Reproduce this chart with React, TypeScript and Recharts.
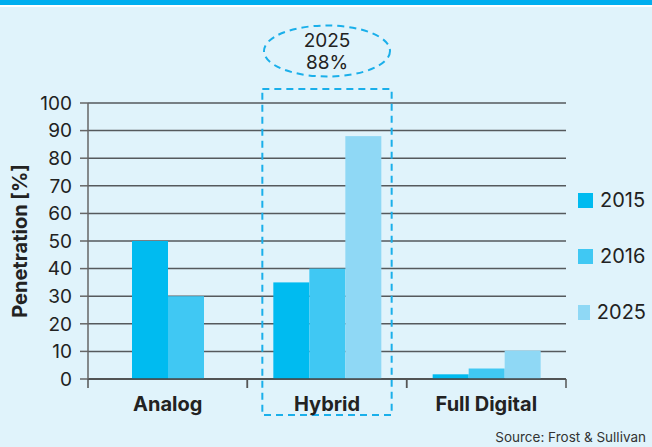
import React from 'react';
import { BarChart, Bar, XAxis, YAxis, CartesianGrid, Legend, ReferenceArea } from 'recharts';

const categories = ['Analog', 'Hybrid', 'Full Digital'];
const series2015 = [50, 35, 1.7];
const series2016 = [30, 40, 3.8];
const series2025: (number | null)[] = [null, 88, 10.3];
const seriesNames = ['2015', '2016', '2025'];
const seriesKeys = ['y2015', 'y2016', 'y2025'];
const colors = ['#00BBF0', '#40C8F3', '#8FD8F5'];
const yTicks = [0, 10, 20, 30, 40, 50, 60, 70, 80, 90, 100];
const highlightCategory = 'Hybrid';
const highlightLines = ['2025', '88%'];
const sourceText = 'Source: Frost & Sullivan';

const data = categories.map((c, i) => ({
  name: c,
  y2015: series2015[i],
  y2016: series2016[i],
  y2025: series2025[i],
}));

const FONT = 'Inter, "Noto Sans", sans-serif';

const BarShape = (props: any) => {
  const { x, y, width, height, fill, payload } = props;
  if (!height || height <= 0) return null;
  const shift = payload && payload.y2025 == null ? width / 2 : 0;
  return <rect x={x + shift} y={y} width={width} height={height} fill={fill} />;
};

const CategoryTick = (props: any) => {
  const { x, y, payload } = props;
  const half = payload && payload.offset ? payload.offset : 0;
  return (
    <g>
      <line x1={x - half} x2={x - half} y1={y} y2={y + 9} stroke="#555" strokeWidth={1.5} />
      <line x1={x + half} x2={x + half} y1={y} y2={y + 9} stroke="#555" strokeWidth={1.5} />
      <text x={x} y={y + 32} textAnchor="middle" fontFamily={FONT} fontWeight={700} fontSize={20} fill="#222">
        {payload.value}
      </text>
    </g>
  );
};

const HighlightShape = (props: any) => {
  const { x, y, width, height } = props;
  const cx = x + width / 2;
  const cy = y - 52;
  return (
    <g>
      <rect
        x={x + 15}
        y={y - 14}
        width={width - 30}
        height={height + 50}
        fill="none"
        stroke="#1AAFEA"
        strokeWidth={2}
        strokeDasharray="7 5"
      />
      <ellipse cx={cx} cy={cy} rx={63} ry={25.5} fill="none" stroke="#1AAFEA" strokeWidth={2} strokeDasharray="7 5" />
      <text x={cx} y={cy - 4} textAnchor="middle" fontFamily={FONT} fontSize={19} fill="#222">
        {highlightLines[0]}
      </text>
      <text x={cx} y={cy + 18} textAnchor="middle" fontFamily={FONT} fontSize={19} fill="#222">
        {highlightLines[1]}
      </text>
    </g>
  );
};

const LegendContent = () => (
  <div style={{ width: 80, height: 168, fontFamily: FONT }}>
    {seriesNames.map((n, i) => (
      <div key={n} style={{ height: 56, display: 'flex', alignItems: 'center' }}>
        <span style={{ display: 'inline-block', width: 15, height: 15, background: colors[i], marginLeft: 12 }} />
        <span style={{ marginLeft: 7, fontSize: 20, color: '#222', lineHeight: '20px' }}>{n}</span>
      </div>
    ))}
  </div>
);

export default function App() {
  return (
    <div style={{ position: 'absolute', left: 0, top: 0, width: 652, height: 447, background: '#E0F3FB', overflow: 'hidden' }}>
      <div style={{ position: 'absolute', left: 0, top: 0, width: 652, height: 5, background: '#00AEEF' }} />
      <div style={{ position: 'absolute', left: 0, top: 5, width: 652, height: 2, background: '#FFFFFF' }} />
      <div style={{ position: 'absolute', left: 0, top: 0 }}>
        <BarChart
          width={652}
          height={447}
          data={data}
          margin={{ top: 103, right: 6, bottom: 28, left: 0 }}
          barGap={0}
          barSize={36}
        >
          <CartesianGrid horizontal vertical={false} stroke="#55595c" strokeWidth={1.5} />
          <XAxis
            dataKey="name"
            height={40}
            tickSize={0}
            tickMargin={0}
            tickLine={false}
            axisLine={{ stroke: '#444', strokeWidth: 1.5 }}
            tick={<CategoryTick />}
            interval={0}
          />
          <YAxis
            width={88}
            domain={[0, 100]}
            ticks={yTicks}
            interval={0}
            tickSize={8}
            tickMargin={8}
            axisLine={{ stroke: '#666', strokeWidth: 1.5 }}
            tickLine={{ stroke: '#666', strokeWidth: 1.5 }}
            tick={{ fontFamily: FONT, fontSize: 19, fill: '#222' }}
            label={{
              value: 'Penetration [%]',
              angle: -90,
              position: 'center',
              dx: -24,
              style: { fontFamily: FONT, fontWeight: 700, fontSize: 20, fill: '#222', textAnchor: 'middle' },
            }}
          />
          <Legend
            layout="vertical"
            align="right"
            verticalAlign="top"
            wrapperStyle={{ top: 172 }}
            content={<LegendContent />}
          />
          {seriesKeys.map((k, i) => (
            <Bar key={k} dataKey={k} name={seriesNames[i]} fill={colors[i]} shape={<BarShape />} isAnimationActive={false} />
          ))}
          <ReferenceArea
            x1={highlightCategory}
            x2={highlightCategory}
            y1={0}
            y2={100}
            ifOverflow="visible"
            shape={<HighlightShape />}
          />
        </BarChart>
      </div>
      <div
        style={{
          position: 'absolute',
          right: 6,
          top: 429,
          fontFamily: FONT,
          fontSize: 13.5,
          color: '#333',
          lineHeight: '16px',
          whiteSpace: 'nowrap',
        }}
      >
        {sourceText}
      </div>
    </div>
  );
}
